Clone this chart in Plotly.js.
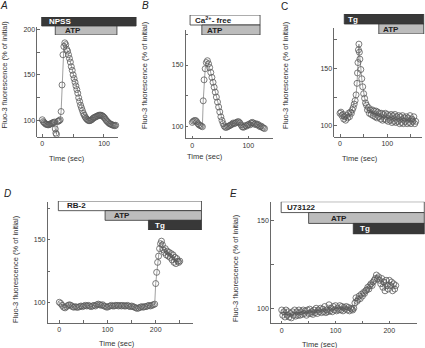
<!DOCTYPE html>
<html>
<head>
<meta charset="utf-8">
<script src="https://cdn.plot.ly/plotly-3.0.1.min.js"></script>
<style>
  html, body { margin: 0; padding: 0; background: #fff; }
  #chart { width: 425px; height: 348px; }
</style>
</head>
<body>
<div id="chart"></div>
<script>
// ---- data (time in sec, Fluo-3 in % of initial) ----
const timeA = [0,1.5,3,4.5,6,7.5,9,10.5,12,13.5,15,16.5,18,19.5,21,22,23,24.5,26,27.5,29,30.5,32,33.5,35,36.5,38,39.5,41,42.5,44,45.5,47,48.5,50,51.5,53,54.5,56,57.5,59,60.5,62,63.5,65,66.5,68,69.5,71,72.5,74,75.5,77,78.5,80,81.5,83,84.5,86,87.5,89,90.5,92,93.5,95,96.5,98,99.5,101,102.5,104,105.5,107,108.5,110,111.5,113,114.5,116,117.5,119];
const fluoA = [101,99,98,97,96,96,95.5,95.5,96,96.5,97,97.5,98,98.5,91,86.5,85,99,99.5,100,101,110,139,172,181,185,183,178,176,172,168,164,159,155,150,146,142,138,134,130,125,121,117,114,111,108,106,104,102.5,101.5,100.5,100,100,100.5,101,102,103,103.5,104,104.5,105,105.5,106,106,106,105.5,105,104,103,101.5,100,99,98,97,96.5,96,95.5,95,95,94.5,95];
const treatA = ["NPSS", "ATP"];
const startA = [-1, 21];
const endA = [152, 121];

const timeB = [0,2,4,6,8,10,12,14,16,18,19.5,21,23,25,27,29,31,33,35,37,39,41,43,45,47,49,51,53,55,57,59,61,63,65,67,69,71,73,75,77,79,81,83,85,87,89,91,93,95,97,99,101,103,105,107,109,111,113,115,117,119,121,123,125,127,129];
const fluoB = [103.5,104.5,105,105,104,102.5,101.5,101,100.5,100,121,138,147,152,153.5,151,148,144,140,136,132,128,124,120,116,112,108,105,102.5,100.5,99.5,99.5,100,100.5,101,101.5,102,103,102.5,103,103.5,104,104,103,101.5,100,99.5,100,101,100.5,101.5,102,101.5,103,103.5,103,102,102.5,101.5,102,101,100,100.5,99.5,99,98.5];
const treatB = ["Ca<sup>2+</sup>- free", "ATP"];
const startB = [-4, 17];
const endB = [121, 121];

const timeC = [0,2,4,6,8,10,12,14,16,18,20,22,24,26,28,30,32,34,36,37,38,39,40,41,42,44,46,48,50,52,54,56,58,60,62,64,66,68,70,72,74,76,78,80,82,84,86,88,90,92,94,96,98,100,102,104,106,108,110,112,114,116,118,120,122,124,126,128,130,132,134,136,138,140,142,144,146,148,150,152,154,156,158,160];
const fluoC = [111,112,109,110,106,108,105,109,107,111,108,112,111,114,116,119,122,127,137,146,155,166,171,164,158,149,141,134,128,124,120,118,114,116,111,114,110,114,109,113,108,113,107,112,108,111,106,111,105,110,106,111,105,110,104,109,105,110,103,109,104,110,103,108,104,109,102,108,103,109,102,107,104,108,102,107,103,109,102,106,104,108,102,104];
const treatC = ["Tg", "ATP"];
const startC = [9, 82];
const endC = [177, 177];

const timeD = [0,3,6,9,12,15,18,21,24,27,30,33,36,39,42,45,48,51,54,57,60,63,66,69,72,75,78,81,84,87,90,93,96,99,102,105,108,111,114,117,120,123,126,129,132,135,138,141,144,147,150,153,156,159,162,165,168,171,174,177,180,183,186,189,192,195,198,200,202,204,206,208,210,212,214,216,218,220,222,224,226,228,230,232,234,236,238,240,242,244,246,248,250];
const fluoD = [100,99,97.5,96,95.5,96.5,97.5,98,97.5,96.5,96,96.5,96,96,96.5,97,96.5,97,97.5,97,97.5,97,96.5,97,97.5,97,98,98.5,98,97.5,98,97,96.5,96,96.5,97,97.5,97,97,97.5,97.5,97,97.5,97,97.5,97,97,97.5,97,96.5,97,96.5,96,95.5,95,95.5,96,96.5,96,96.5,96.5,97,97.5,97,97.5,98,98.5,115,124,132,137,143,147,149,146,142,140,143,138,141,137,140,136,139,134,138,132,136,131,135,133,132,133];
const treatD = ["RB-2", "ATP", "Tg"];
const startD = [-2, 95, 185];
const endD = [295, 295, 295];

const timeE = [0,2,4,6,8,10,12,14,16,18,20,22,24,26,28,30,32,34,36,38,40,42,44,46,48,50,52,54,56,58,60,62,64,66,68,70,72,74,76,78,80,82,84,86,88,90,92,94,96,98,100,102,104,106,108,110,112,114,116,118,120,122,124,126,128,130,132,134,136,138,140,142,144,146,148,150,152,154,156,158,160,162,164,166,168,170,172,174,176,178,180,182,184,186,188,190,192,194,196,198,200,202,204,206,208,210,212];
const fluoE = [99,96,98,95,99,96,98,95,97,94.5,98,96,99,95.5,98,96,99,96,98,96.5,99,97,98.5,96,99,97,99.5,97,98,96.5,99,97.5,100,97,99,98,100,97.5,99.5,98,101,97.5,99,98,102,98.5,100,98,101,99,101.5,98.5,100,99,101.5,99,101,98.5,100.5,99.5,101,99,100.5,98.5,100,99.5,99,100,103,106,104,105,107,105.5,108,107,109,108.5,110,110.5,112,111,113,114,113,115,116,117,119,117,118,116,114,117,112,115,110,116,113,111,116,113,115,110,114,111,113];
const treatE = ["U73122", "ATP", "Tg"];
const startE = [-1, 50, 133];
const endE = [265, 265, 265];

// ---- page geometry (pixels of the 425x348 picture) ----
const W = 425, H = 348;
const panels = [
  { t: timeA, v: fluoA, names: treatA, start: startA, end: endA, letter: "<i>A</i>",
    box: [37.3, 27, 118, 136.7], xr: [-8.1, 122.7], yr: [82.5, 202.3],
    barBox: [17, 35, 145], shift: [5, 8], xTitle: [67, 158], yTitle: [4.5, 75], letterPos: [4, 5] },
  { t: timeB, v: fluoB, names: treatB, start: startB, end: endB, letter: "<i>B</i>",
    box: [185.7, 30, 273, 138.3], xr: [-11.8, 144.1], yr: [90.6, 178.4],
    barBox: [15, 35, 273], shift: [3, 3], xTitle: [205, 157], yTitle: [145, 75], letterPos: [145, 5] },
  { t: timeC, v: fluoC, names: treatC, start: startC, end: endC, letter: "C",
    box: [334.3, 28, 421.7, 136.7], xr: [-12.05, 172.7], yr: [90.7, 185],
    barBox: [14, 34, 425], shift: [2, 2], xTitle: [360, 158], yTitle: [286, 75], letterPos: [284, 6] },
  { t: timeD, v: fluoD, names: treatD, start: startD, end: endD, letter: "<i>D</i>",
    box: [47.7, 202, 192.7, 322.7], xr: [-24.1, 276.8], yr: [83.6, 180.4],
    barBox: [201, 230, 210], shift: [7, 7, 5], xTitle: [117, 343], yTitle: [15, 269], letterPos: [8, 193] },
  { t: timeE, v: fluoE, names: treatE, start: startE, end: endE, letter: "<i>E</i>",
    box: [271, 202.3, 416.7, 323.3], xr: [-19.9, 250.9], yr: [91.4, 160.6],
    barBox: [201.7, 234.3, 425], shift: [4, 20, 5], xTitle: [320, 344], yTitle: [235, 268], letterPos: [234, 193] }
];

function barColor(name) {
  if (name === "NPSS" || name === "Tg") return "#383838";
  if (name === "ATP") return "#bcbcbc";
  return "#ffffff";
}

const axisStyle = {
  showline: true, linecolor: "#444", linewidth: 0.8,
  ticks: "inside", ticklen: 2.5, tickwidth: 0.8, tickcolor: "#444",
  showgrid: false, zeroline: false,
  tickfont: { size: 7, color: "#333" }
};
const minorStyle = { ticks: "inside", ticklen: 2.5, tickwidth: 0.8, tickcolor: "#444", showgrid: false };

const data = [];
const layout = {
  width: W, height: H,
  margin: { l: 0, r: 0, t: 0, b: 0 },
  paper_bgcolor: "#fff", plot_bgcolor: "rgba(0,0,0,0)",
  showlegend: false,
  font: { family: "Liberation Sans, Arial, sans-serif", size: 7, color: "#333" },
  annotations: []
};

panels.forEach((p, i) => {
  const n = i + 1, m = i + 6;
  const [l, top, r, bot] = p.box;
  const [bTop, bBot, bRight] = p.barBox;

  layout["xaxis" + n] = Object.assign({}, axisStyle, {
    domain: [l / W, r / W], range: p.xr, anchor: "y" + n,
    dtick: 100, minor: Object.assign({ dtick: 50 }, minorStyle)
  });
  layout["yaxis" + n] = Object.assign({}, axisStyle, {
    domain: [1 - bot / H, 1 - top / H], range: p.yr, anchor: "x" + n,
    dtick: 50, minor: Object.assign({ dtick: 25 }, minorStyle)
  });

  // treatment bars live on their own axes, same time scale but wider domain
  const secPerPx = (p.xr[1] - p.xr[0]) / (r - l);
  layout["xaxis" + m] = {
    domain: [l / W, bRight / W], range: [p.xr[0], p.xr[0] + (bRight - l) * secPerPx],
    anchor: "y" + m, visible: false
  };
  layout["yaxis" + m] = {
    domain: [1 - bBot / H, 1 - bTop / H], range: [p.names.length - 0.5, -0.5],
    anchor: "x" + m, visible: false
  };

  data.push({
    type: "scatter", mode: "lines+markers",
    x: p.t, y: p.v, xaxis: "x" + n, yaxis: "y" + n,
    line: { color: "#777", width: 0.7 },
    marker: { symbol: "circle-open", size: 6, color: "#5a5a5a", line: { width: 0.8 } },
    cliponaxis: false, hoverinfo: "skip"
  });

  data.push({
    type: "bar", orientation: "h",
    x: p.end.map((e, k) => e - p.start[k]), base: p.start,
    y: p.names.map((_, k) => k), width: 1,
    xaxis: "x" + m, yaxis: "y" + m,
    marker: { color: p.names.map(barColor), line: { color: "#333", width: 0.8 } },
    hoverinfo: "skip"
  });

  p.names.forEach((name, k) => {
    layout.annotations.push({
      xref: "x" + m, yref: "y" + m, x: p.start[k], y: k,
      xanchor: "left", yanchor: "middle", xshift: p.shift[k],
      text: "<b>" + name + "</b>", showarrow: false,
      font: { size: 8, color: barColor(name) === "#383838" ? "#fff" : "#222" }
    });
  });

  layout.annotations.push({
    xref: "paper", yref: "paper", x: p.xTitle[0] / W, y: 1 - p.xTitle[1] / H,
    xanchor: "center", yanchor: "middle", text: "Time (sec)", showarrow: false,
    font: { size: 7.5 }
  });
  layout.annotations.push({
    xref: "paper", yref: "paper", x: p.yTitle[0] / W, y: 1 - p.yTitle[1] / H,
    xanchor: "center", yanchor: "middle", textangle: -90,
    text: "Fluo-3 fluorescence (% of initial)", showarrow: false,
    font: { size: 7.5 }
  });
  layout.annotations.push({
    xref: "paper", yref: "paper", x: p.letterPos[0] / W, y: 1 - p.letterPos[1] / H,
    xanchor: "center", yanchor: "middle", text: p.letter, showarrow: false,
    font: { size: 10, color: "#222" }
  });
});

Plotly.newPlot("chart", data, layout, { staticPlot: true });
</script>
</body>
</html>
